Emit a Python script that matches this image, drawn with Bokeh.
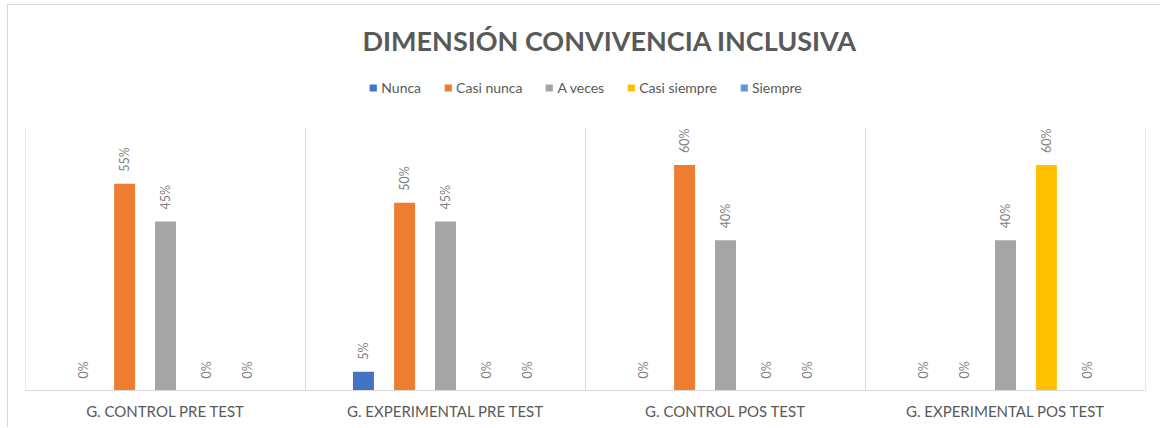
from bokeh.plotting import figure
from bokeh.models import (ColumnDataSource, FactorRange, Range1d, Legend, LegendItem)
from bokeh.transform import dodge
from bokeh.core.properties import value
from bokeh.embed import file_html
from bokeh.resources import INLINE

categories = ["G. CONTROL PRE TEST", "G. EXPERIMENTAL PRE TEST",
              "G. CONTROL POS TEST", "G. EXPERIMENTAL POS TEST"]
series_names = ["Nunca", "Casi nunca", "A veces", "Casi siempre", "Siempre"]
nunca = [0, 5, 0, 0]
casi_nunca = [55, 50, 60, 0]
a_veces = [45, 45, 40, 40]
casi_siempre = [0, 0, 0, 60]
siempre = [0, 0, 0, 0]
series_values = [nunca, casi_nunca, a_veces, casi_siempre, siempre]
colors = ["#4472C4", "#ED7D31", "#A5A5A5", "#FFC000", "#5B9BD5"]
offsets = [-0.293, -0.146, 0.0, 0.146, 0.293]
axis_max = 70

FONT = "Lato"
OX, OY = 8, 5                 # chart-area border offset
W, H = 1161 - OX, 428 - OY
TOP = 61 - OY                 # frame top (px)
BASE = 390 - OY               # frame bottom
AXIS_TOP = 127 - OY           # where axis_max should sit
y_end = axis_max * (BASE - TOP) / (BASE - AXIS_TOP)

p = figure(x_range=FactorRange(*categories, range_padding=0), y_range=Range1d(0, y_end),
           width=W, height=H, output_backend="svg", toolbar_location=None,
           min_border_left=25 - OX, min_border_right=1161 - 1145, min_border_bottom=H - BASE,
           min_border_top=TOP)
p.styles = {"margin-left": "7px", "margin-top": "4px",
            "border-left": "1px solid #d9d9d9", "border-top": "1px solid #d9d9d9"}
p.outline_line_color = None
p.grid.visible = False
p.yaxis.visible = False
p.xaxis.axis_line_color = "#d9d9d9"
p.xaxis.major_tick_line_color = None
p.xaxis.minor_tick_line_color = None
p.xaxis.major_label_text_font = FONT
p.xaxis.major_label_text_font_size = "15px"
p.xaxis.major_label_text_color = "#595959"
p.xaxis.major_label_standoff = 5

p.title.text = "DIMENSIÓN  CONVIVENCIA  INCLUSIVA"
p.title.align = "left"
p.title.text_font = FONT
p.title.text_font_size = "27px"
p.title.text_font_style = "bold"
p.title.text_color = "#595959"
p.title.offset = 337

# separators between categories
sep = ColumnDataSource(dict(cat=categories))
p.segment(x0=dodge("cat", -0.5, range=p.x_range), y0=0,
          x1=dodge("cat", -0.5, range=p.x_range), y1=axis_max,
          source=sep, line_color="#d9d9d9", line_width=1)
sep_last = ColumnDataSource(dict(cat=categories[-1:]))
p.segment(x0=dodge("cat", 0.5, range=p.x_range), y0=0,
          x1=dodge("cat", 0.5, range=p.x_range), y1=axis_max,
          source=sep_last, line_color="#d9d9d9", line_width=1)

items = []
for name, vals, col, off in zip(series_names, series_values, colors, offsets):
    src = ColumnDataSource(dict(cat=categories, val=vals,
                                lab=[f"{v}%" for v in vals]))
    r = p.vbar(x=dodge("cat", off, range=p.x_range), top="val", width=0.075,
               source=src, fill_color=col, line_color=None)
    p.text(x=dodge("cat", off, range=p.x_range), y="val", text="lab", source=src,
           angle=1.5708, text_align="left", text_baseline="middle",
           y_offset=-12, text_font=value(FONT), text_font_size="12.5px",
           text_color="#7f7f7f")
    items.append(LegendItem(label=name, renderers=[r]))

legend = Legend(items=items, orientation="horizontal", location="top_center",
                label_text_font=FONT, label_text_font_size="14px",
                label_text_color="#595959", glyph_width=9, glyph_height=9,
                spacing=22, label_standoff=4, border_line_color=None,
                background_fill_alpha=0, margin=18, padding=5)
p.add_layout(legend)

open("out.html", "w").write(file_html(p, INLINE))
